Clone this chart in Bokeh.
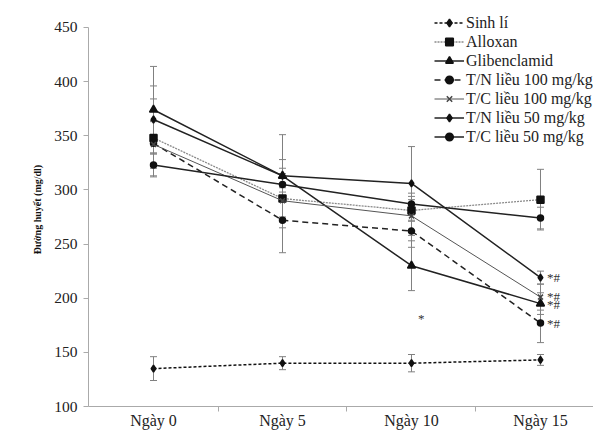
from bokeh.plotting import figure
from bokeh.models import (ColumnDataSource, Whisker, TeeHead, FixedTicker, Legend,
                          LegendItem, Label, Range1d)
from bokeh.embed import file_html
from bokeh.resources import INLINE

days = ["Ngày 0", "Ngày 5", "Ngày 10", "Ngày 15"]
y_ticks = [100, 150, 200, 250, 300, 350, 400, 450]

series_names = ["Sinh lí", "Alloxan", "Glibenclamid", "T/N liều 100 mg/kg",
                "T/C liều 100 mg/kg", "T/N liều 50 mg/kg", "T/C liều 50 mg/kg"]

sinh_li = [135, 140, 140, 143]
sinh_li_err = [11, 6, 8, 5]
alloxan = [348, 292, 281, 291]
alloxan_err = [36, 20, 10, 28]
glib = [374, 313, 230, 195]
glib_err = [40, 15, 23, 10]
tn100 = [343, 272, 262, 177]
tn100_err = [20, 30, 15, 18]
tc100 = [342, 290, 276, 201]
tc100_err = [22, 25, 18, 12]
tn50 = [365, 313, 306, 219]
tn50_err = [31, 38, 34, 6]
tc50 = [323, 305, 287, 274]
tc50_err = [10, 15, 10, 10]

star_hash_vals = [219, 202, 194, 177]
star_day10 = 181

SERIF = "Liberation Serif"

# frame: left 88, top 12, bottom 406 (25px below); 450 sits at y=27
p = figure(width=593, height=431, output_backend="svg", toolbar_location=None,
           x_range=Range1d(-0.504, 3.411), y_range=Range1d(100, 463.8),
           min_border_left=88, min_border_right=0, min_border_top=12,
           min_border_bottom=25)
p.outline_line_color = None
p.xgrid.visible = False
p.ygrid.visible = False
p.background_fill_color = "white"

xs = list(range(len(days)))

styles = [
    dict(vals=sinh_li, err=sinh_li_err, color="#111111", mcolor="#111111", dash="3 2", width=1.5, marker="diamond", size=7),
    dict(vals=alloxan, err=alloxan_err, color="#8a8a8a", mcolor="#111111", dash="2 1", width=1.3, marker="square", size=7),
    dict(vals=glib, err=glib_err, color="#222222", mcolor="#111111", dash="solid", width=1.5, marker="triangle", size=8),
    dict(vals=tn100, err=tn100_err, color="#222222", mcolor="#111111", dash="6 4", width=1.5, marker="circle", size=6),
    dict(vals=tc100, err=tc100_err, color="#555555", mcolor="#444444", dash="solid", width=1.0, marker="x", size=7),
    dict(vals=tn50, err=tn50_err, color="#222222", mcolor="#111111", dash="solid", width=1.5, marker="diamond", size=7),
    dict(vals=tc50, err=tc50_err, color="#222222", mcolor="#111111", dash="solid", width=1.5, marker="circle", size=6),
]

items = []
for name, st in zip(series_names, styles):
    src = ColumnDataSource(dict(
        x=xs, y=st["vals"],
        lower=[v - e for v, e in zip(st["vals"], st["err"])],
        upper=[v + e for v, e in zip(st["vals"], st["err"])],
    ))
    w = Whisker(source=src, base="x", lower="lower", upper="upper",
                line_color="#808080", line_width=1,
                upper_head=TeeHead(size=7, line_color="#808080", line_width=1),
                lower_head=TeeHead(size=7, line_color="#808080", line_width=1))
    p.add_layout(w)
    r1 = p.line("x", "y", source=src, line_color=st["color"], line_width=st["width"],
                line_dash=st["dash"])
    r2 = p.scatter("x", "y", source=src, marker=st["marker"], size=st["size"],
                   fill_color=st["mcolor"], line_color=st["mcolor"], line_width=1.5)
    items.append(LegendItem(label=name, renderers=[r1, r2]))

legend = Legend(items=items, location=(346, 260), border_line_color=None,
                background_fill_alpha=0, label_text_font=SERIF,
                label_text_font_size="16px", label_text_color="#222222",
                glyph_width=30, glyph_height=19, label_height=19, spacing=0,
                padding=0, margin=0, label_standoff=2)
p.add_layout(legend)

# significance marks
for v in star_hash_vals:
    p.add_layout(Label(x=3.05, y=v, text="*#", text_font=SERIF, text_font_size="13px",
                       text_color="#333333", text_baseline="middle"))
p.add_layout(Label(x=2.05, y=star_day10, text="*", text_font=SERIF, text_font_size="13px",
                   text_color="#333333", text_baseline="middle"))

# axes
p.xaxis.ticker = FixedTicker(ticks=xs, minor_ticks=[0.5, 1.5, 2.5])
p.xaxis.major_label_overrides = {i: d for i, d in enumerate(days)}
p.xaxis.major_tick_line_color = None
p.xaxis.major_tick_out = 0
p.xaxis.major_tick_in = 0
p.xaxis.minor_tick_line_color = "#aaaaaa"
p.xaxis.minor_tick_out = 5
p.xaxis.minor_tick_in = 0
p.xaxis.axis_line_color = "#aaaaaa"
p.xaxis.major_label_text_font = SERIF
p.xaxis.major_label_text_font_size = "16px"
p.xaxis.major_label_text_color = "#222222"
p.xaxis.major_label_standoff = 0

p.yaxis.ticker = FixedTicker(ticks=y_ticks)
p.yaxis.bounds = (100, 450)
p.yaxis.minor_tick_line_color = None
p.yaxis.major_tick_line_color = "#aaaaaa"
p.yaxis.major_tick_out = 5
p.yaxis.major_tick_in = 0
p.yaxis.axis_line_color = "#aaaaaa"
p.yaxis.major_label_text_font = SERIF
p.yaxis.major_label_text_font_size = "15.5px"
p.yaxis.major_label_text_color = "#222222"
p.yaxis.major_label_standoff = 6
p.yaxis.axis_label = "Đường huyết (mg/dl)"
p.yaxis.axis_label_text_font = SERIF
p.yaxis.axis_label_text_font_size = "10px"
p.yaxis.axis_label_text_font_style = "bold"
p.yaxis.axis_label_text_color = "#111111"
p.yaxis.axis_label_standoff = 8

open("out.html", "w").write(file_html(p, INLINE))
